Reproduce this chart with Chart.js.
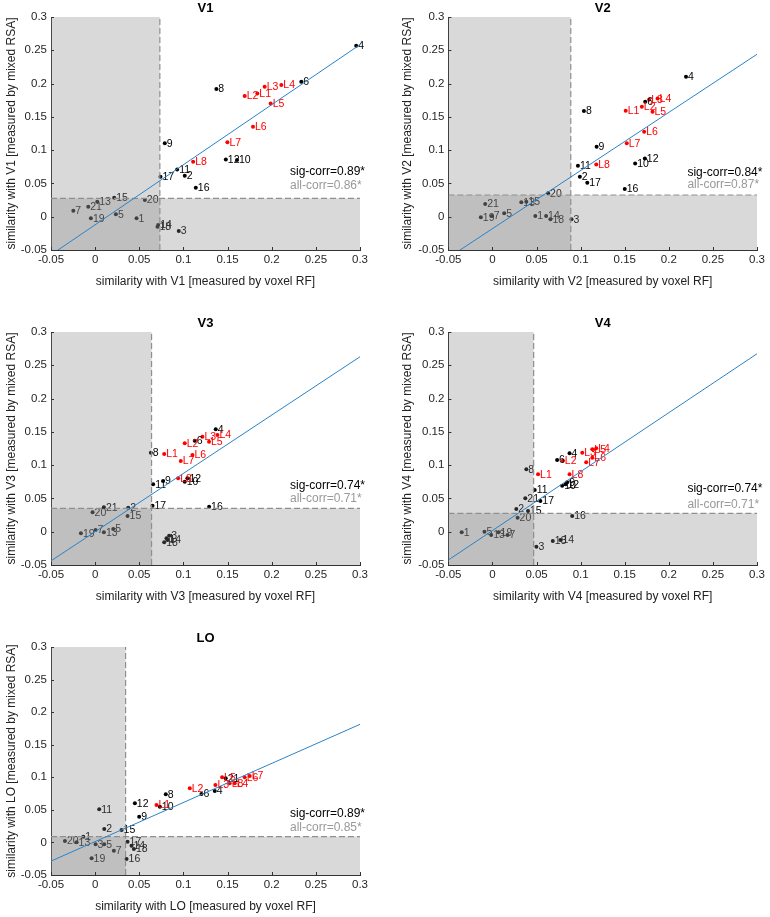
<!DOCTYPE html>
<html><head><meta charset="utf-8">
<script src="https://cdn.jsdelivr.net/npm/chart.js@4/dist/chart.umd.min.js"></script>
<style>
html,body{margin:0;padding:0;background:#fff;width:770px;height:917px;overflow:hidden}
canvas{position:absolute}
</style></head><body>
<canvas id="c0"></canvas><canvas id="c1"></canvas><canvas id="c2"></canvas><canvas id="c3"></canvas><canvas id="c4"></canvas>
<script>
// ---------- data ----------
const pointNames = ['1','2','3','4','5','6','7','8','9','10','11','12','13','14','15','16','17','18','19','20','21',
                    'L1','L2','L3','L4','L5','L6','L7','L8'];
const panelNames = ['V1','V2','V3','V4','LO'];
const tickValues = [-0.05, 0, 0.05, 0.1, 0.15, 0.2, 0.25, 0.3];

const v1X = [0.0469,0.1015,0.0947,0.2957,0.0235,0.2335,-0.0247,0.1373,0.0789,0.1607,0.0929,0.148,0.0024,0.0714,0.0216,0.114,0.074,0.0706,-0.0048,0.0563,-0.0078,
             0.1837,0.1694,0.192,0.2109,0.1988,0.1788,0.1498,0.111];
const v1Y = [-0.0024,0.0616,-0.0215,0.2568,0.0036,0.2027,0.0091,0.1917,0.1102,0.0851,0.0711,0.0861,0.0226,-0.0124,0.0286,0.0436,0.0601,-0.0149,-0.0024,0.0251,0.0151,
             0.1852,0.1812,0.1952,0.1977,0.1702,0.1352,0.1117,0.0826];
const v2X = [0.0486,0.0991,0.0896,0.2195,0.0133,0.1732,-0.0007,0.1037,0.1181,0.1618,0.0969,0.1728,0.0327,0.0608,0.0384,0.15,0.1075,0.0657,-0.0132,0.0631,-0.0083,
             0.1511,0.1694,0.1777,0.1872,0.1815,0.172,0.1523,0.1177];
const v2Y = [0.0011,0.0601,-0.0039,0.2103,0.0051,0.1727,0.0011,0.1587,0.1052,0.0801,0.0766,0.0876,0.0216,0.0011,0.0226,0.0416,0.0511,-0.0039,-0.0009,0.0351,0.0191,
             0.1592,0.1652,0.1762,0.1777,0.1577,0.1277,0.1102,0.0786];
const v3X = [0.0808,0.0374,0.0838,0.1366,0.0205,0.1128,0.0005,0.0631,0.077,0.1015,0.0657,0.1045,0.0099,0.0819,0.0367,0.1291,0.065,0.0782,-0.0161,-0.0029,0.0099,
             0.0782,0.1015,0.1215,0.1385,0.129,0.1102,0.097,0.094];
const v3Y = [-0.010,0.0361,-0.006,0.1538,0.0041,0.1368,0.0026,0.1187,0.0762,0.0752,0.0712,0.0802,-0.0009,-0.0125,0.0236,0.0376,0.0391,-0.016,-0.0024,0.0291,0.0366,
             0.1167,0.1328,0.1428,0.1453,0.1353,0.1152,0.1062,0.0802];
const v4X = [-0.0349,0.027,0.0498,0.0874,-0.0091,0.0733,0.0171,0.0384,0.0847,0.079,0.0479,0.0828,-0.0015,0.0771,0.0403,0.0904,0.0543,0.0684,0.0069,0.0285,0.0372,
             0.0517,0.0798,0.1018,0.1177,0.1132,0.1132,0.1063,0.0874];
const v4Y = [-0.0009,0.0341,-0.0225,0.1177,0.0001,0.1077,-0.0049,0.0937,0.0742,0.0692,0.0627,0.0712,-0.0049,-0.0124,0.0311,0.0236,0.0461,-0.0139,-0.0009,0.0211,0.0501,
             0.0862,0.1067,0.1187,0.1252,0.1237,0.1112,0.1042,0.0862];
const loX = [-0.0134,0.0103,0.0005,0.1355,0.0103,0.1204,0.0212,0.08,0.0499,0.0733,0.0046,0.045,-0.021,0.0412,0.0299,0.0356,0.0367,0.0439,-0.004,-0.0342,0.1479,
             0.0695,0.1072,0.1362,0.1581,0.1438,0.1694,0.1751,0.1524];
const loY = [0.0089,0.0206,-0.0029,0.079,-0.0029,0.0744,-0.0126,0.0738,0.0396,0.0549,0.0508,0.06,0.0002,-0.005,0.0191,-0.0254,0.0012,-0.0101,-0.0244,0.0022,0.0984,
             0.0575,0.0831,0.0882,0.0907,0.1,0.0999,0.102,0.0907];

const thresholdX = [0.0733, 0.0888, 0.0639, 0.0467, 0.0345];
const thresholdY = [0.0276, 0.0326, 0.0351, 0.0276, 0.0090];
const fitSlope = [0.902, 0.873, 0.876, 0.885, 0.600];
const fitIntercept = [-0.0121, -0.0179, 0.0, 0.0018, 0.0013];
const sigCorr = ['0.89*', '0.84*', '0.74*', '0.74*', '0.89*'];
const allCorr = ['0.86*', '0.87*', '0.71*', '0.71*', '0.85*'];

// ---------- layout (page pixels) ----------
const seriesX = [v1X, v2X, v3X, v4X, loX];
const seriesY = [v1Y, v2Y, v3Y, v4Y, loY];
const layout = [
  {left:0,   top:0,   w:385, h:289, l:51,    t:17,  r:360, b:250, yt:12,  sigY:0.067,  allY:0.046},
  {left:385, top:0,   w:385, h:289, l:448.4, t:17,  r:757, b:250, yt:408, sigY:0.0667, allY:0.0476},
  {left:0,   top:315, w:385, h:289, l:51,    t:332, r:360, b:565, yt:12,  sigY:0.069,  allY:0.049},
  {left:385, top:315, w:385, h:289, l:448.4, t:332, r:757, b:565, yt:408, sigY:0.064,  allY:0.040},
  {left:0,   top:630, w:385, h:284, l:51,    t:647, r:360, b:875, yt:12,  sigY:0.0436, allY:0.0222}
];

const FONT = '"Liberation Sans", Arial, Helvetica, sans-serif';
const fmt = v => String(+v.toFixed(2));

const panelPlugin = {
  id: 'panel',
  afterDatasetDraw(chart, args, opts) {
    if (args.index !== 0) return;
    const ctx = chart.ctx, xs = chart.scales.x, ys = chart.scales.y;
    ctx.save();
    ctx.font = '10.5px ' + FONT;
    ctx.textBaseline = 'middle';
    ctx.textAlign = 'left';
    args.meta.data.forEach((el, i) => {
      const n = pointNames[i];
      ctx.fillStyle = n[0] === 'L' ? '#ff0000' : '#000000';
      ctx.fillText(n, el.x + 2, el.y + 0.5);
    });
    // shaded threshold regions (semi-transparent, overlap gets darker)
    ctx.fillStyle = 'rgba(128,128,128,0.3)';
    const x0 = xs.getPixelForValue(-0.05), x1 = xs.getPixelForValue(opts.tx), x2 = xs.getPixelForValue(0.3);
    const y0 = ys.getPixelForValue(-0.05), yT = ys.getPixelForValue(0.3), y1 = ys.getPixelForValue(opts.ty);
    ctx.fillRect(x0, yT, x1 - x0, y0 - yT);
    ctx.fillRect(x0, y1, x2 - x0, y0 - y1);
    ctx.restore();
  },
  afterDraw(chart, args, opts) {
    const ctx = chart.ctx, xs = chart.scales.x, ys = chart.scales.y, ca = chart.chartArea;
    ctx.save();
    // inward tick marks
    ctx.strokeStyle = '#333';
    ctx.lineWidth = 1;
    ctx.beginPath();
    tickValues.forEach(v => {
      const px = Math.round(xs.getPixelForValue(v)) + 0.5;
      ctx.moveTo(px, ca.bottom); ctx.lineTo(px, ca.bottom - 3);
      const py = Math.round(ys.getPixelForValue(v)) + 0.5;
      ctx.moveTo(ca.left, py); ctx.lineTo(ca.left + 3, py);
    });
    ctx.stroke();
    // title
    ctx.fillStyle = '#000';
    ctx.font = 'bold 13px ' + FONT;
    ctx.textAlign = 'center';
    ctx.textBaseline = 'middle';
    ctx.fillText(opts.title, (ca.left + ca.right) / 2, ca.top - 9);
    // correlation texts
    ctx.font = '12px ' + FONT;
    ctx.textAlign = 'left';
    const tx = ca.left + 239;
    ctx.fillStyle = '#000';
    ctx.fillText('sig-corr=' + opts.sig, tx, ys.getPixelForValue(opts.sigY));
    ctx.fillStyle = '#999';
    ctx.fillText('all-corr=' + opts.all, tx, ys.getPixelForValue(opts.allY));
    ctx.restore();
  }
};

panelNames.forEach((name, k) => {
  const L = layout[k];
  const cv = document.getElementById('c' + k);
  cv.width = L.w; cv.height = L.h;
  cv.style.left = L.left + 'px'; cv.style.top = L.top + 'px';
  cv.style.width = L.w + 'px'; cv.style.height = L.h + 'px';
  const padLeft = L.yt - 7.2 - L.left;
  const yWidth = L.l - L.left - padLeft;
  const xHeight = L.top + L.h - L.b;
  const xsArr = seriesX[k], ysArr = seriesY[k];
  const pts = xsArr.map((x, i) => ({x: x, y: ysArr[i]}));
  const colors = pointNames.map(n => n[0] === 'L' ? '#ff0000' : '#000000');
  const a = fitIntercept[k], s = fitSlope[k];
  const tx = thresholdX[k], ty = thresholdY[k];
  new Chart(cv, {
    type: 'scatter',
    data: {
      datasets: [
        {data: pts, pointRadius: 2, pointBorderWidth: 0, pointBackgroundColor: colors, pointBorderColor: colors, showLine: false, order: 3},
        {data: [{x: tx, y: -0.05}, {x: tx, y: 0.3}], showLine: true, pointRadius: 0, borderColor: '#8f8f8f', borderWidth: 1.2, borderDash: [6, 3], order: 2},
        {data: [{x: -0.05, y: ty}, {x: 0.3, y: ty}], showLine: true, pointRadius: 0, borderColor: '#8f8f8f', borderWidth: 1.2, borderDash: [6, 3], order: 2},
        {data: [{x: -0.05, y: a + s * -0.05}, {x: 0.3, y: a + s * 0.3}], showLine: true, pointRadius: 0, borderColor: '#2a83c8', borderWidth: 1, order: 1}
      ]
    },
    options: {
      responsive: false,
      animation: false,
      events: [],
      layout: {padding: {left: padLeft, top: L.t - L.top, right: L.left + L.w - L.r, bottom: 0}},
      plugins: {
        legend: {display: false},
        tooltip: {enabled: false},
        panel: {title: name, tx: tx, ty: ty, sig: sigCorr[k], all: allCorr[k], sigY: L.sigY, allY: L.allY}
      },
      scales: {
        x: {
          type: 'linear', min: -0.05, max: 0.3,
          afterBuildTicks: sc => { sc.ticks = tickValues.map(v => ({value: v})); },
          afterFit: sc => { sc.height = xHeight; },
          grid: {display: false, drawTicks: false},
          border: {display: true, color: '#333', width: 1},
          ticks: {autoSkip: false, maxRotation: 0, padding: 3, color: '#262626', font: {family: FONT, size: 11.5}, callback: v => fmt(v)},
          title: {display: true, text: 'similarity with ' + name + ' [measured by voxel RF]', color: '#222', padding: 0, font: {family: FONT, size: 12}}
        },
        y: {
          type: 'linear', min: -0.05, max: 0.3,
          afterBuildTicks: sc => { sc.ticks = tickValues.map(v => ({value: v})); },
          afterFit: sc => { sc.width = yWidth; },
          grid: {display: false, drawTicks: false},
          border: {display: true, color: '#333', width: 1},
          ticks: {autoSkip: false, padding: 4, color: '#262626', font: {family: FONT, size: 11.5}, callback: v => fmt(v)},
          title: {display: true, text: 'similarity with ' + name + ' [measured by mixed RSA]', color: '#222', padding: 0, font: {family: FONT, size: 12}}
        }
      }
    },
    plugins: [panelPlugin]
  });
});
</script>
</body></html>
